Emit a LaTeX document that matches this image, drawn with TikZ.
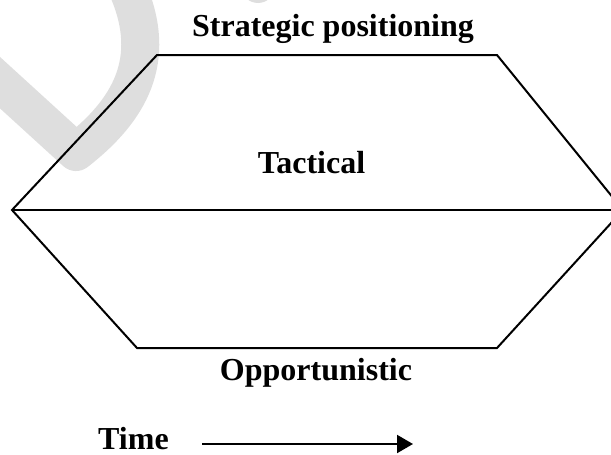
\documentclass[tikz,border=0pt]{standalone}
\usepackage{fontspec}
\setmainfont{Liberation Serif}
\usetikzlibrary{arrows.meta}
\begin{document}
\begin{tikzpicture}[x=1pt,y=-1pt,
  lbl/.style={font=\bfseries\fontsize{32}{38}\selectfont, inner sep=0pt, anchor=base},
  edge/.style={line width=2pt, line join=miter},
  wm/.style={draw=black!13, line width=38pt, line cap=round, line join=round}]
\useasboundingbox (0,0) rectangle (611,455);
\begin{scope}
\clip (0,0) rectangle (611,455);
% watermark
\draw[wm] (-15,69) -- (76,152) .. controls (130,110) and (158,60) .. (128,-10);
\fill[black!13] (258,-14) circle (17);
% shape
\coordinate (L) at (12,210);
\coordinate (R) at (623,210);
\coordinate (TL) at (157,55);
\coordinate (TR) at (497,55);
\coordinate (BL) at (137,348);
\coordinate (BR) at (497,348);
\draw[edge] (L) -- (TL) -- (TR) -- (R) -- (BR) -- (BL) -- cycle;
\draw[edge] (L) -- (R);
\end{scope}
\node[lbl] (strat) at (333,36) {Strategic positioning};
\node[lbl] (tact) at (311.5,173) {Tactical};
\node[lbl] (opp) at (316,380) {Opportunistic};
\node[lbl, anchor=base west] (time) at (98,449) {Time};
\coordinate (a1) at (202,444);
\coordinate (a2) at (413,444);
\draw[line width=2pt, -{Triangle[length=16pt,width=18pt]}] (a1) -- (a2);
\end{tikzpicture}
\end{document}
